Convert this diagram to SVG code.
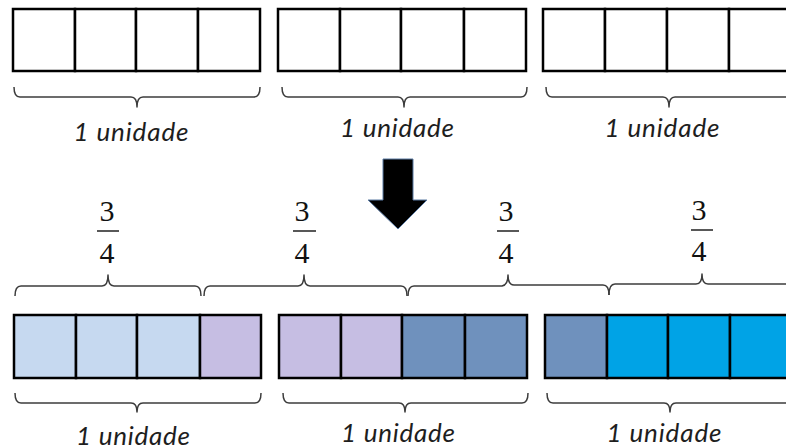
<svg xmlns="http://www.w3.org/2000/svg" width="786" height="448" viewBox="0 0 786 448">
<style>
.cell{stroke:#000;stroke-width:2.5}
.w{fill:#fff}
.lb{fill:#c6d9f0}
.lv{fill:#c6bee3}
.mb{fill:#6f91bd}
.bb{fill:#00a3e6}
.brace{fill:none;stroke:#3c3c3c;stroke-width:1.5;stroke-linejoin:round}
.un{font-family:Lato,"Liberation Sans",sans-serif;font-style:italic;font-size:26px;fill:#1e1e1e;text-anchor:middle}
.fr{font-family:"Liberation Serif","Times New Roman",serif;font-size:30px;fill:#111;text-anchor:middle}
.fl{stroke:#111;stroke-width:1.4}
</style>
<rect width="786" height="448" fill="#fff"/>

<g id="top-bar-1">
<rect class="cell w" x="13" y="9" width="62" height="62"/>
<rect class="cell w" x="75" y="9" width="61" height="62"/>
<rect class="cell w" x="136" y="9" width="62" height="62"/>
<rect class="cell w" x="198" y="9" width="62" height="62"/>
</g>
<g id="top-bar-2">
<rect class="cell w" x="278" y="9" width="62" height="62"/>
<rect class="cell w" x="340" y="9" width="61" height="62"/>
<rect class="cell w" x="401" y="9" width="63" height="62"/>
<rect class="cell w" x="464" y="9" width="62" height="62"/>
</g>
<g id="top-bar-3">
<rect class="cell w" x="543" y="9" width="62" height="62"/>
<rect class="cell w" x="605" y="9" width="62" height="62"/>
<rect class="cell w" x="667" y="9" width="62" height="62"/>
<rect class="cell w" x="729" y="9" width="62" height="62"/>
</g>

<g id="connectors">
<path class="brace" d="M14,87 Q14,97 20,97 H131 Q137,97 137,107 Q137,97 143,97 H254 Q260,97 260,87"/>
<path class="brace" d="M282,87 Q282,97 288,97 H398 Q404,97 404,107 Q404,97 410,97 H521 Q527,97 527,87"/>
<path class="brace" d="M546,87 Q546,97 552,97 H663 Q669,97 669,107 Q669,97 675,97 H800"/>
<path class="brace" d="M15,296 Q15,286 21,286 H102 Q108,286 108,275 Q108,286 114,286 H195 Q201,286 201,296"/>
<path class="brace" d="M204,296 Q204,286 210,286 H298 Q304,286 304,275 Q304,286 310,286 H401 Q407,286 407,296"/>
<path class="brace" d="M408,296 Q408,286 414,286 H502 Q508,285 508,275 Q508,285 514,285 H603 Q609,285 609,295"/>
<path class="brace" d="M609,295 Q609,284 615,284 H696 Q702,284 702,274 Q702,284 708,284 H800"/>
<path class="brace" d="M15,393 Q15,403 21,403 H131 Q137,403 137,412 Q137,403 143,403 H255 Q261,403 261,393"/>
<path class="brace" d="M283,393 Q283,403 289,403 H399 Q405,403 405,412 Q405,403 411,403 H522 Q528,403 528,393"/>
<path class="brace" d="M547,393 Q547,403 553,403 H664 Q670,403 670,412 Q670,403 676,403 H800"/>
</g>

<g id="top-labels">
<text class="un" x="131" y="141" textLength="115" lengthAdjust="spacing">1 unidade</text>
<text class="un" x="397" y="137" textLength="114" lengthAdjust="spacing">1 unidade</text>
<text class="un" x="662" y="137" textLength="115" lengthAdjust="spacing">1 unidade</text>
</g>

<g id="arrow">
<polygon points="383,159 413,159 413,200 427,200 398,229 368,200 383,200" fill="#000" stroke="#5a7aa3" stroke-width="1"/>
</g>

<g id="fraction-1">
<text class="fr" x="107" y="221">3</text>
<line class="fl" x1="97" y1="231" x2="119" y2="231"/>
<text class="fr" x="107" y="263">4</text>
</g>
<g id="fraction-2">
<text class="fr" x="302" y="221">3</text>
<line class="fl" x1="293" y1="231" x2="316" y2="231"/>
<text class="fr" x="302" y="263">4</text>
</g>
<g id="fraction-3">
<text class="fr" x="506" y="221">3</text>
<line class="fl" x1="497" y1="231" x2="519" y2="231"/>
<text class="fr" x="506" y="263">4</text>
</g>
<g id="fraction-4">
<text class="fr" x="699" y="220">3</text>
<line class="fl" x1="691" y1="230" x2="713" y2="230"/>
<text class="fr" x="699" y="261">4</text>
</g>

<g id="bottom-bar-1">
<rect class="cell lb" x="14" y="315" width="62" height="63"/>
<rect class="cell lb" x="76" y="315" width="61" height="63"/>
<rect class="cell lb" x="137" y="315" width="63" height="63"/>
<rect class="cell lv" x="200" y="315" width="61" height="63"/>
</g>
<g id="bottom-bar-2">
<rect class="cell lv" x="279" y="315" width="62" height="63"/>
<rect class="cell lv" x="341" y="315" width="61" height="63"/>
<rect class="cell mb" x="402" y="315" width="63" height="63"/>
<rect class="cell mb" x="465" y="315" width="62" height="63"/>
</g>
<g id="bottom-bar-3">
<rect class="cell mb" x="545" y="315" width="62" height="63"/>
<rect class="cell bb" x="607" y="315" width="61" height="63"/>
<rect class="cell bb" x="668" y="315" width="62" height="63"/>
<rect class="cell bb" x="730" y="315" width="62" height="63"/>
</g>

<g id="bottom-labels">
<text class="un" x="133" y="445" textLength="114" lengthAdjust="spacing">1 unidade</text>
<text class="un" x="398" y="442" textLength="114" lengthAdjust="spacing">1 unidade</text>
<text class="un" x="664" y="442" textLength="115" lengthAdjust="spacing">1 unidade</text>
</g>
</svg>
